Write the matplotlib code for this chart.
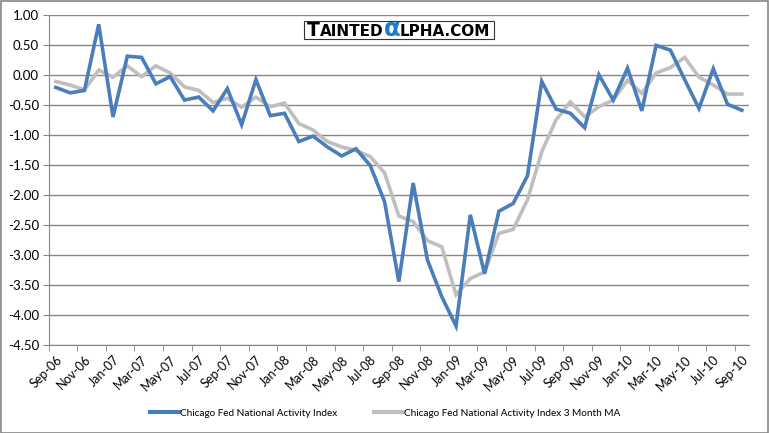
import numpy as np
import matplotlib
matplotlib.use("Agg")
from matplotlib import pyplot as plt
from matplotlib.patches import Rectangle

# Datos (Sep-06 a Sep-10, mensual)
months = ['Sep-06', 'Oct-06', 'Nov-06', 'Dec-06', 'Jan-07', 'Feb-07', 'Mar-07',
          'Apr-07', 'May-07', 'Jun-07', 'Jul-07', 'Aug-07', 'Sep-07', 'Oct-07',
          'Nov-07', 'Dec-07', 'Jan-08', 'Feb-08', 'Mar-08', 'Apr-08', 'May-08',
          'Jun-08', 'Jul-08', 'Aug-08', 'Sep-08', 'Oct-08', 'Nov-08', 'Dec-08',
          'Jan-09', 'Feb-09', 'Mar-09', 'Apr-09', 'May-09', 'Jun-09', 'Jul-09',
          'Aug-09', 'Sep-09', 'Oct-09', 'Nov-09', 'Dec-09', 'Jan-10', 'Feb-10',
          'Mar-10', 'Apr-10', 'May-10', 'Jun-10', 'Jul-10', 'Aug-10', 'Sep-10']

cfnai = [-0.21, -0.30, -0.26, 0.84, -0.70, 0.31, 0.29, -0.15, -0.03, -0.42,
         -0.37, -0.60, -0.23, -0.83, -0.08, -0.68, -0.64, -1.11, -1.02, -1.20,
         -1.35, -1.23, -1.51, -2.11, -3.44, -1.80, -3.08, -3.69, -4.18, -2.33,
         -3.31, -2.27, -2.14, -1.68, -0.11, -0.57, -0.64, -0.88, 0.00, -0.42,
         0.11, -0.60, 0.49, 0.41, -0.08, -0.56, 0.10, -0.49, -0.59]

cfnai_ma3 = [-0.11, -0.17, -0.25, 0.08, -0.04, 0.15, -0.03, 0.15, 0.03, -0.20,
             -0.26, -0.46, -0.39, -0.54, -0.37, -0.53, -0.47, -0.81, -0.92, -1.11,
             -1.20, -1.26, -1.36, -1.63, -2.35, -2.44, -2.76, -2.86, -3.66, -3.39,
             -3.28, -2.64, -2.57, -2.08, -1.28, -0.75, -0.45, -0.70, -0.53, -0.42,
             -0.09, -0.31, 0.03, 0.12, 0.29, -0.04, -0.17, -0.32, -0.32]

W, H = 769, 433
plt.rcParams['font.family'] = ['Lato', 'DejaVu Sans']
plt.rcParams['axes.unicode_minus'] = False

fig = plt.figure(figsize=(W / 100, H / 100), dpi=100)
ax = fig.add_axes([48.7 / W, 1 - 345.3 / H, (749 - 48.7) / W, (345.3 - 14.7) / H])

x = np.arange(len(months))
ax.plot(x, cfnai, color='#4A7EBB', lw=2.6, solid_joinstyle='miter',
        label='Chicago Fed National Activity Index', zorder=3)
ax.plot(x, cfnai_ma3, color='#BFBFBF', lw=2.6, solid_joinstyle='miter',
        label='Chicago Fed National Activity Index 3 Month MA', zorder=2)

ax.set_xlim(-0.5, len(months) - 0.5)
ax.set_ylim(-4.5, 1.0)
ax.set_yticks(np.arange(-4.5, 1.01, 0.5))
ax.set_yticklabels(['%.2f' % v for v in np.arange(-4.5, 1.01, 0.5)])
ax.yaxis.grid(True, color='#868686', lw=1)
ax.set_axisbelow(True)

ax.set_xticks(x[::2])
ax.set_xticklabels(months[::2], rotation=45, ha='right', rotation_mode='anchor')
ax.set_xticks(np.arange(-0.5, len(months) - 1, 2), minor=True)
ax.tick_params(axis='x', which='major', length=0, pad=6, labelsize=9)
ax.tick_params(axis='x', which='minor', length=4, color='#868686')
ax.tick_params(axis='y', length=4, color='#868686', labelsize=9.5, pad=3)

for s in ['top', 'right']:
    ax.spines[s].set_visible(False)
for s in ['left', 'bottom']:
    ax.spines[s].set_color('#868686')

# Leyenda abajo
leg = fig.legend(loc='center', bbox_to_anchor=(385 / W, 1 - 413 / H), ncol=2,
                 frameon=False, fontsize=7.2, handlelength=2.9, handletextpad=0.15,
                 columnspacing=3.6)
for ln in leg.get_lines():
    ln.set_linewidth(3)

# Marco exterior
fig.patches.append(Rectangle((0.5 / W, 0.5 / H), 1 - 1.5 / W, 1 - 1.5 / H,
                             transform=fig.transFigure, fill=False,
                             edgecolor='#868686', lw=1.2))

# Logo
fig.patches.append(Rectangle((304 / W, 1 - 39.3 / H), 190 / W, 18.6 / H,
                             transform=fig.transFigure, facecolor='white',
                             edgecolor='#333333', lw=0.8, zorder=5))
renderer = fig.canvas.get_renderer()
yb = 1 - 35.5 / H
xpos = 307
parts = [('T', 13.5, 'black'), ('AINTED', 11, 'black'), ('α', 17.5, '#1F7AC8'),
         ('LPHA.COM', 11, 'black')]
for txt, size, col in parts:
    t = fig.text(xpos / W, yb, txt, fontsize=size, color=col, fontweight='bold',
                 family='DejaVu Sans', va='baseline', ha='left', zorder=6)
    bb = t.get_window_extent(renderer)
    xpos += bb.width

fig.savefig('out.png', dpi=100)
